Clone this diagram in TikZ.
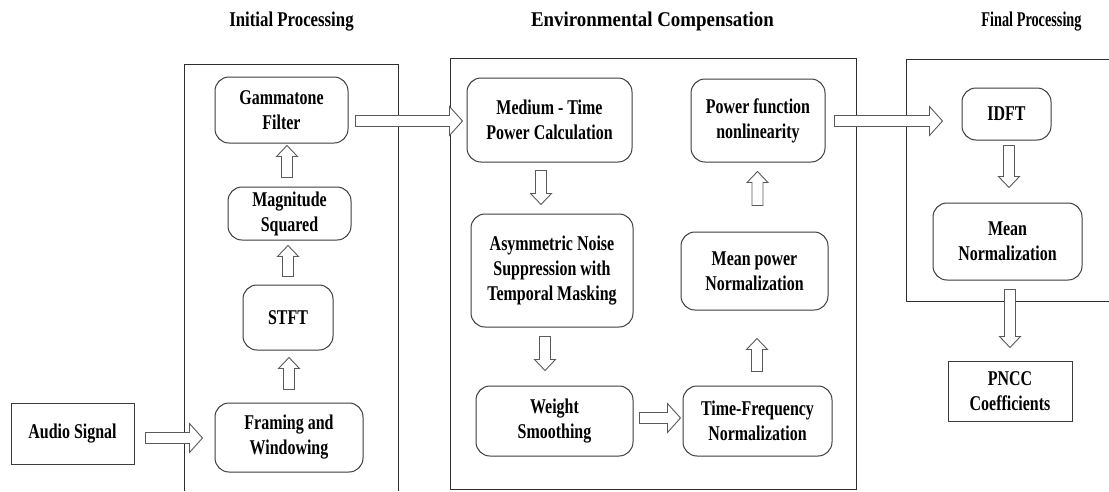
\documentclass[tikz,border=0pt]{standalone}
\usepackage{fontspec}
\usepackage{graphicx}
\setmainfont{Liberation Serif}[FakeStretch=0.76]
\newfontfamily\titlefont{Liberation Serif}
\usetikzlibrary{calc}
\def\arhs{5.5pt}\def\arhh{14.5pt}\def\arhl{13pt}
\def\arvs{5.5pt}\def\arvh{10.5pt}\def\arvl{11pt}
\newcommand\arrR[2]{\draw[blk] ($(#1)+(0,\arhs)$) -- ($(#2)+(-\arhl,\arhs)$) -- ($(#2)+(-\arhl,\arhh)$) -- (#2) -- ($(#2)+(-\arhl,-\arhh)$) -- ($(#2)+(-\arhl,-\arhs)$) -- ($(#1)+(0,-\arhs)$) -- cycle;}
\newcommand\arrU[2]{\draw[blk] ($(#1)+(-\arvs,0)$) -- ($(#2)+(-\arvs,-\arvl)$) -- ($(#2)+(-\arvh,-\arvl)$) -- (#2) -- ($(#2)+(\arvh,-\arvl)$) -- ($(#2)+(\arvs,-\arvl)$) -- ($(#1)+(\arvs,0)$) -- cycle;}
\newcommand\arrD[2]{\draw[blk] ($(#1)+(-\arvs,0)$) -- ($(#2)+(-\arvs,\arvl)$) -- ($(#2)+(-\arvh,\arvl)$) -- (#2) -- ($(#2)+(\arvh,\arvl)$) -- ($(#2)+(\arvs,\arvl)$) -- ($(#1)+(\arvs,0)$) -- cycle;}
\definecolor{boxline}{HTML}{3C3C3C}
\definecolor{arline}{HTML}{5A5A5A}
\definecolor{frameline}{HTML}{2E2E2E}
\begin{document}
\begin{tikzpicture}[x=1pt,y=-1pt,
  txt/.style={font=\fontsize{21}{25}\selectfont\bfseries, align=center, inner sep=0pt},
  rbox/.style={txt, draw=boxline, line width=1pt, rounded corners=14pt},
  sbox/.style={txt, draw=boxline, line width=1pt},
  blk/.style={draw=arline, fill=white, line width=0.9pt, line join=miter},
  frame/.style={draw=frameline, line width=1pt},
  ttl/.style={font=\titlefont\fontsize{21}{25}\selectfont\bfseries, anchor=base, inner sep=0pt}]
\useasboundingbox (0,0) rectangle (1109,491);
% titles
\node[ttl] (t1) at (291.5,26) {\scalebox{0.80}[1]{Initial Processing}};
\node[ttl] (t2) at (652.5,26) {\scalebox{0.90}[1]{Environmental Compensation}};
\node[ttl] (t3) at (1031.5,26) {\scalebox{0.68}[1]{Final Processing}};
% containers
\draw[frame] (184,491) -- (184,64) -- (398,64) -- (398,491);
\draw[frame] (450,58) rectangle (856,489);
\draw[frame] (1109,59) -- (906,59) -- (906,301) -- (1109,301);
% nodes
\node[sbox, minimum width=123pt, minimum height=61pt] (audio) at (72.5,433.5) {Audio Signal};
\node[rbox, minimum width=148pt, minimum height=69pt] (fram) at (289,437.5) {Framing and\\Windowing};
\node[rbox, minimum width=90pt, minimum height=65pt] (stft) at (288,317.5) {STFT};
\node[rbox, minimum width=123pt, minimum height=53pt] (mag) at (289.5,213.5) {Magnitude\\Squared};
\node[rbox, minimum width=133pt, minimum height=66pt] (gam) at (281.5,110) {Gammatone\\Filter};
\node[rbox, minimum width=165pt, minimum height=84pt] (med) at (549.5,120) {Medium - Time\\Power Calculation};
\node[rbox, minimum width=162pt, minimum height=113pt] (asym) at (552,270.5) {Asymmetric Noise\\Suppression with\\Temporal Masking};
\node[rbox, minimum width=157pt, minimum height=70pt] (weight) at (554.5,421) {Weight\\Smoothing};
\node[rbox, minimum width=149pt, minimum height=70pt] (tf) at (757.5,421) {Time-Frequency\\Normalization};
\node[rbox, minimum width=147pt, minimum height=78pt] (mp) at (754.5,271) {Mean power\\Normalization};
\node[rbox, minimum width=134pt, minimum height=83pt] (pf) at (758,120.5) {Power function\\nonlinearity};
\node[rbox, minimum width=89pt, minimum height=52pt] (idft) at (1006.5,114) {IDFT};
\node[rbox, minimum width=149pt, minimum height=77pt] (mn) at (1007.5,241.5) {Mean\\Normalization};
\node[sbox, minimum width=124pt, minimum height=60pt] (pncc) at (1010,391) {PNCC\\Coefficients};
% arrows
\coordinate (e1) at ($(fram.west)+(-12pt,-0.5pt)$);
\coordinate (s1) at ($(audio.east |- e1)+(11pt,0)$);
\arrR{s1}{e1}
\coordinate (e2) at ($(stft.south)+(1pt,-7pt)$);
\coordinate (s2) at ($(e2 |- fram.north)+(0,13pt)$);
\arrU{s2}{e2}
\coordinate (e3) at ($(mag.south)+(-1.5pt,-5pt)$);
\coordinate (s3) at ($(e3 |- stft.north)+(0,8pt)$);
\arrU{s3}{e3}
\coordinate (e4) at ($(gam.south)+(5.5pt,-2pt)$);
\coordinate (s4) at ($(e4 |- mag.north)+(0,9pt)$);
\arrU{s4}{e4}
\coordinate (e5) at ($(med.west)+(-4pt,-1pt)$);
\coordinate (s5) at ($(gam.east |- e5)+(7pt,0)$);
\arrR{s5}{e5}
\coordinate (e6) at ($(asym.north)+(-11pt,9pt)$);
\coordinate (s6) at ($(e6 |- med.south)+(0,-8pt)$);
\arrD{s6}{e6}
\coordinate (e7) at ($(weight.north)+(-9.5pt,15pt)$);
\coordinate (s7) at ($(e7 |- asym.south)+(0,-9pt)$);
\arrD{s7}{e7}
\coordinate (e8) at ($(tf.west)+(-2pt,3pt)$);
\coordinate (s8) at ($(weight.east |- e8)+(6pt,0)$);
\arrR{s8}{e8}
\coordinate (e9) at ($(mp.south)+(2.5pt,-28pt)$);
\coordinate (s9) at ($(e9 |- tf.north)+(0,14pt)$);
\arrU{s9}{e9}
\coordinate (e10) at ($(pf.south)+(-0.5pt,-9pt)$);
\coordinate (s10) at ($(e10 |- mp.north)+(0,26pt)$);
\arrU{s10}{e10}
\coordinate (e11) at ($(idft.west)+(-19pt,-7pt)$);
\coordinate (s11) at ($(pf.east |- e11)+(9pt,0)$);
\arrR{s11}{e11}
\coordinate (e12) at ($(mn.north)+(1.5pt,15pt)$);
\coordinate (s12) at ($(e12 |- idft.south)+(0,-5pt)$);
\arrD{s12}{e12}
\coordinate (e13) at ($(pncc.north)+(0pt,13pt)$);
\coordinate (s13) at ($(e13 |- mn.south)+(0,-9pt)$);
\arrD{s13}{e13}
\end{tikzpicture}
\end{document}
